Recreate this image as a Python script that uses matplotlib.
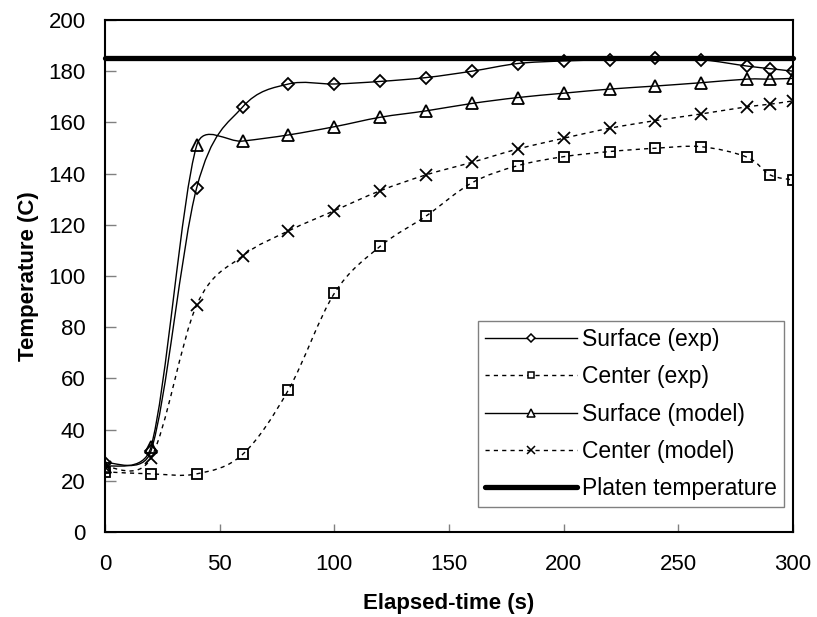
import numpy as np
import matplotlib
matplotlib.use("Agg")
import matplotlib.pyplot as plt
from matplotlib.path import Path
from matplotlib.patches import PathPatch
from matplotlib.lines import Line2D

plt.rcParams['font.family'] = ['Liberation Sans', 'DejaVu Sans']

# tiempos de medida (s)
t = [0, 20, 40, 60, 80, 100, 120, 140, 160, 180, 200, 220, 240, 260, 280, 290, 300]

# temperaturas (C)
surface_exp = [27, 31.5, 134.5, 166, 175, 175, 176, 177.5, 180, 183, 184, 184.5, 185, 184.5, 182, 181, 180]
center_exp = [23.5, 22.7, 22.7, 30.3, 55.5, 93.2, 111.6, 123.4, 136.4, 143.1, 146.6, 148.6, 149.9, 150.5, 146.4, 139.5, 137.5]
surface_model = [25.5, 33, 151, 152.7, 155.1, 158.3, 162, 164.5, 167.4, 169.7, 171.4, 173, 174.2, 175.5, 176.9, 176.9, 177.2]
center_model = [25.5, 28.8, 88.7, 107.8, 117.6, 125.5, 133.3, 139.5, 144.4, 149.6, 153.8, 157.7, 160.7, 163.3, 166.1, 167.1, 168.4]

platen_t = [0, 300]
platen = [185, 185]

labels = ['Surface (exp)', 'Center (exp)', 'Surface (model)', 'Center (model)', 'Platen temperature']


def smooth_path(x, y, sx, sy):
    # curva suavizada tipo Excel (Bezier por tramos)
    p = np.column_stack([x, y]).astype(float)
    esc = np.array([sx, sy])
    n = len(p)

    def dist(a, b):
        return np.hypot(*((b - a) * esc))

    verts = [p[0]]
    codes = [Path.MOVETO]
    for i in range(n - 1):
        p0 = p[max(i - 1, 0)]
        p1 = p[i]
        p2 = p[i + 1]
        p3 = p[min(i + 2, n - 1)]
        d01, d12, d23 = dist(p0, p1), dist(p1, p2), dist(p2, p3)
        f1 = 1 / 6 if d01 == 0 else 1 / 6 * min(1, 3 * d12 / d01)
        f2 = 1 / 6 if d23 == 0 else 1 / 6 * min(1, 3 * d12 / d23)
        c1 = p1 + (p2 - p0) * f1
        c2 = p2 - (p3 - p1) * f2
        verts += [c1, c2, p2]
        codes += [Path.CURVE4] * 3
    return Path(verts, codes)


fig = plt.figure(figsize=(8.17, 6.17), dpi=100)
ax = fig.add_axes([0.1285, 0.1378, 0.8421, 0.8298])
ax.set_xlim(0, 300)
ax.set_ylim(0, 200)

# pixeles por unidad para el suavizado
sx = 688 / 300
sy = 512 / 200

series = [
    (surface_exp, 'D', '-', 6.5),
    (center_exp, 's', (0, (3, 3)), 7),
    (surface_model, '^', '-', 8),
    (center_model, 'x', (0, (3, 3)), 8),
]

handles = []
for (y, mk, ls, ms), lab in zip(series, labels):
    ruta = smooth_path(t, y, sx, sy)
    ax.add_patch(PathPatch(ruta, facecolor='none', edgecolor='black', lw=1.0, linestyle=ls))
    ax.plot(t, y, linestyle='none', marker=mk, markersize=ms, markerfacecolor='none',
            markeredgecolor='black', markeredgewidth=1.3)
    handles.append(Line2D([], [], color='black', lw=1.0, linestyle=ls, marker=mk,
                          markersize=ms * 0.7, markerfacecolor='white',
                          markeredgecolor='black', markeredgewidth=1.1))

ax.plot(platen_t, platen, color='black', lw=3.8, solid_capstyle='round', clip_on=False)
handles.append(Line2D([], [], color='black', lw=3.8, solid_capstyle='round'))

ax.set_xticks(range(0, 301, 50))
ax.set_yticks(range(0, 201, 20))
ax.tick_params(axis='both', direction='in', color='#808080', width=1.0, labelsize=16)
ax.tick_params(axis='y', length=8, pad=14)
ax.tick_params(axis='x', length=6, pad=16)
for s in ax.spines.values():
    s.set_linewidth(1.5)

ax.set_xlabel('Elapsed-time (s)', fontsize=16, fontweight='bold', labelpad=13)
ax.set_ylabel('Temperature (C)', fontsize=16, fontweight='bold', labelpad=7)

leg = ax.legend(handles, labels, loc='lower right', bbox_to_anchor=(0.987, 0.049),
                borderaxespad=0, fontsize=16.5, handlelength=4.0, handletextpad=0.25,
                labelspacing=0.62, borderpad=0.3, fancybox=False, framealpha=1,
                edgecolor='#808080')
leg.get_frame().set_linewidth(1.0)

fig.savefig('out.png', dpi=100)
